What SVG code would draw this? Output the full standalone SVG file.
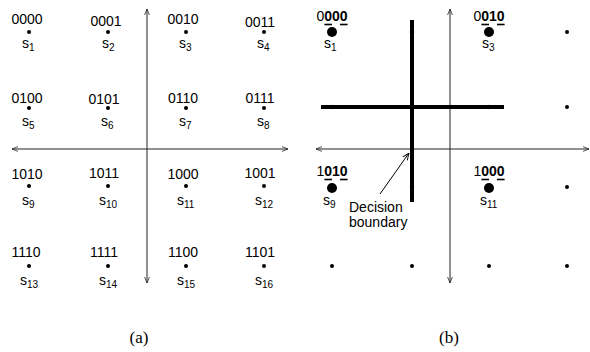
<svg xmlns="http://www.w3.org/2000/svg" width="590" height="352" viewBox="0 0 590 352">
<defs>
<marker id="ah" viewBox="0 0 10 10" refX="10" refY="5" markerWidth="6" markerHeight="6" orient="auto-start-reverse" markerUnits="userSpaceOnUse">
<path d="M0,1 L10,5 L0,9" fill="none" stroke="#222" stroke-width="1.3"/>
</marker>
<marker id="ah2" viewBox="0 0 10 10" refX="10" refY="5" markerWidth="7" markerHeight="7" orient="auto" markerUnits="userSpaceOnUse">
<path d="M0,1 L10,5 L0,9" fill="none" stroke="#000" stroke-width="1.3"/>
</marker>
</defs>
<style>
text{font-family:"Liberation Sans",Arial,sans-serif;fill:#000}
.lb{font-size:14px;text-anchor:middle}
.s{font-size:14px}
.sub{font-size:10px}
.b{font-weight:bold}
.axis{stroke:#222;stroke-width:1;fill:none}
.dot{fill:#000}
.thick{stroke:#000;stroke-width:4}
.ul{stroke:#000;stroke-width:1.6}
.cap{font-family:"Liberation Serif","Times New Roman",serif;font-size:17px;text-anchor:middle}
</style>
<g id="connectors">
<line class="axis" x1="147" y1="283" x2="147" y2="9" marker-start="url(#ah)" marker-end="url(#ah)"/>
<line class="axis" x1="12" y1="149" x2="288" y2="149" marker-start="url(#ah)" marker-end="url(#ah)"/>
<line class="axis" x1="450" y1="283" x2="450" y2="9" marker-start="url(#ah)" marker-end="url(#ah)"/>
<line class="axis" x1="316" y1="149" x2="589" y2="149" marker-start="url(#ah)" marker-end="url(#ah)"/>
</g>
<g id="panel-a">
<g id="a-s1"><text class="lb" x="27" y="24">0000</text><circle class="dot" cx="29" cy="32" r="2"/><text class="s" x="22" y="48">s<tspan class="sub" dy="3">1</tspan></text></g>
<g id="a-s2"><text class="lb" x="106" y="26">0001</text><circle class="dot" cx="108" cy="32" r="2"/><text class="s" x="102" y="48">s<tspan class="sub" dy="3">2</tspan></text></g>
<g id="a-s3"><text class="lb" x="183" y="24">0010</text><circle class="dot" cx="186" cy="32" r="2"/><text class="s" x="179" y="48">s<tspan class="sub" dy="3">3</tspan></text></g>
<g id="a-s4"><text class="lb" x="260" y="27">0011</text><circle class="dot" cx="264" cy="32" r="2"/><text class="s" x="257" y="48">s<tspan class="sub" dy="3">4</tspan></text></g>
<g id="a-s5"><text class="lb" x="27" y="103">0100</text><circle class="dot" cx="29" cy="108" r="2"/><text class="s" x="22" y="126">s<tspan class="sub" dy="3">5</tspan></text></g>
<g id="a-s6"><text class="lb" x="104" y="104">0101</text><circle class="dot" cx="108" cy="108" r="2"/><text class="s" x="101" y="126">s<tspan class="sub" dy="3">6</tspan></text></g>
<g id="a-s7"><text class="lb" x="183" y="103">0110</text><circle class="dot" cx="186" cy="108" r="2"/><text class="s" x="179" y="126">s<tspan class="sub" dy="3">7</tspan></text></g>
<g id="a-s8"><text class="lb" x="260" y="103">0111</text><circle class="dot" cx="264" cy="108" r="2"/><text class="s" x="257" y="126">s<tspan class="sub" dy="3">8</tspan></text></g>
<g id="a-s9"><text class="lb" x="27" y="179">1010</text><circle class="dot" cx="29" cy="186" r="2"/><text class="s" x="22" y="205">s<tspan class="sub" dy="3">9</tspan></text></g>
<g id="a-s10"><text class="lb" x="104" y="178">1011</text><circle class="dot" cx="108" cy="186" r="2"/><text class="s" x="99" y="205">s<tspan class="sub" dy="3">10</tspan></text></g>
<g id="a-s11"><text class="lb" x="183" y="179">1000</text><circle class="dot" cx="186" cy="186" r="2"/><text class="s" x="177" y="205">s<tspan class="sub" dy="3">11</tspan></text></g>
<g id="a-s12"><text class="lb" x="260" y="178">1001</text><circle class="dot" cx="264" cy="186" r="2"/><text class="s" x="255" y="205">s<tspan class="sub" dy="3">12</tspan></text></g>
<g id="a-s13"><text class="lb" x="26" y="257">1110</text><circle class="dot" cx="29" cy="266" r="2"/><text class="s" x="20" y="285">s<tspan class="sub" dy="3">13</tspan></text></g>
<g id="a-s14"><text class="lb" x="104" y="257">1111</text><circle class="dot" cx="108" cy="266" r="2"/><text class="s" x="99" y="285">s<tspan class="sub" dy="3">14</tspan></text></g>
<g id="a-s15"><text class="lb" x="183" y="257">1100</text><circle class="dot" cx="186" cy="266" r="2"/><text class="s" x="177" y="285">s<tspan class="sub" dy="3">15</tspan></text></g>
<g id="a-s16"><text class="lb" x="260" y="257">1101</text><circle class="dot" cx="264" cy="266" r="2"/><text class="s" x="255" y="285">s<tspan class="sub" dy="3">16</tspan></text></g>
</g>
<g id="panel-b">
<g id="b-hidden-dots"><circle cx="412" cy="32" r="2.3" fill="#777"/><circle cx="332" cy="107" r="2.3" fill="#777"/><circle cx="489" cy="107" r="2.3" fill="#777"/><circle cx="412" cy="187" r="2.3" fill="#777"/></g>
<g id="b-boundary"><line class="thick" x1="412" y1="20" x2="412" y2="202"/><line class="thick" x1="321" y1="107" x2="504" y2="107"/></g>
<g id="b-s1"><text class="lb" x="332" y="21">0<tspan class="b">000</tspan></text><line class="ul" x1="324.4" y1="24.5" x2="332" y2="24.5"/><line class="ul" x1="340" y1="24.5" x2="347.6" y2="24.5"/><circle class="dot" cx="332" cy="32" r="5"/><text class="s" x="324" y="48">s<tspan class="sub" dy="3">1</tspan></text></g>
<g id="b-s3"><text class="lb" x="489" y="21">0<tspan class="b">010</tspan></text><line class="ul" x1="481.4" y1="24.5" x2="489" y2="24.5"/><line class="ul" x1="497" y1="24.5" x2="504.6" y2="24.5"/><circle class="dot" cx="489" cy="32" r="5"/><text class="s" x="482" y="48">s<tspan class="sub" dy="3">3</tspan></text></g>
<g id="b-s9"><text class="lb" x="332" y="176">1<tspan class="b">010</tspan></text><line class="ul" x1="324.4" y1="179.5" x2="332" y2="179.5"/><line class="ul" x1="340" y1="179.5" x2="347.6" y2="179.5"/><circle class="dot" cx="332" cy="188" r="5"/><text class="s" x="323" y="205">s<tspan class="sub" dy="3">9</tspan></text></g>
<g id="b-s11"><text class="lb" x="489" y="176">1<tspan class="b">000</tspan></text><line class="ul" x1="481.4" y1="179.5" x2="489" y2="179.5"/><line class="ul" x1="497" y1="179.5" x2="504.6" y2="179.5"/><circle class="dot" cx="489" cy="188" r="5"/><text class="s" x="480" y="205">s<tspan class="sub" dy="3">11</tspan></text></g>
<g id="b-dots">
<circle class="dot" cx="567" cy="32" r="2"/><circle class="dot" cx="567" cy="107" r="2"/><circle class="dot" cx="567" cy="187" r="2"/>
<circle class="dot" cx="332" cy="266" r="2"/><circle class="dot" cx="412" cy="266" r="2"/><circle class="dot" cx="489" cy="266" r="2"/><circle class="dot" cx="567" cy="266" r="2"/>
</g>
<g id="b-label"><line x1="380" y1="194" x2="409" y2="153" stroke="#000" stroke-width="1" marker-end="url(#ah2)"/><text class="s" x="349" y="212">Decision</text><text class="s" x="349" y="227">boundary</text></g>
</g>
<g id="captions"><text class="cap" x="139" y="343">(a)</text><text class="cap" x="449" y="343">(b)</text></g>
</svg>
